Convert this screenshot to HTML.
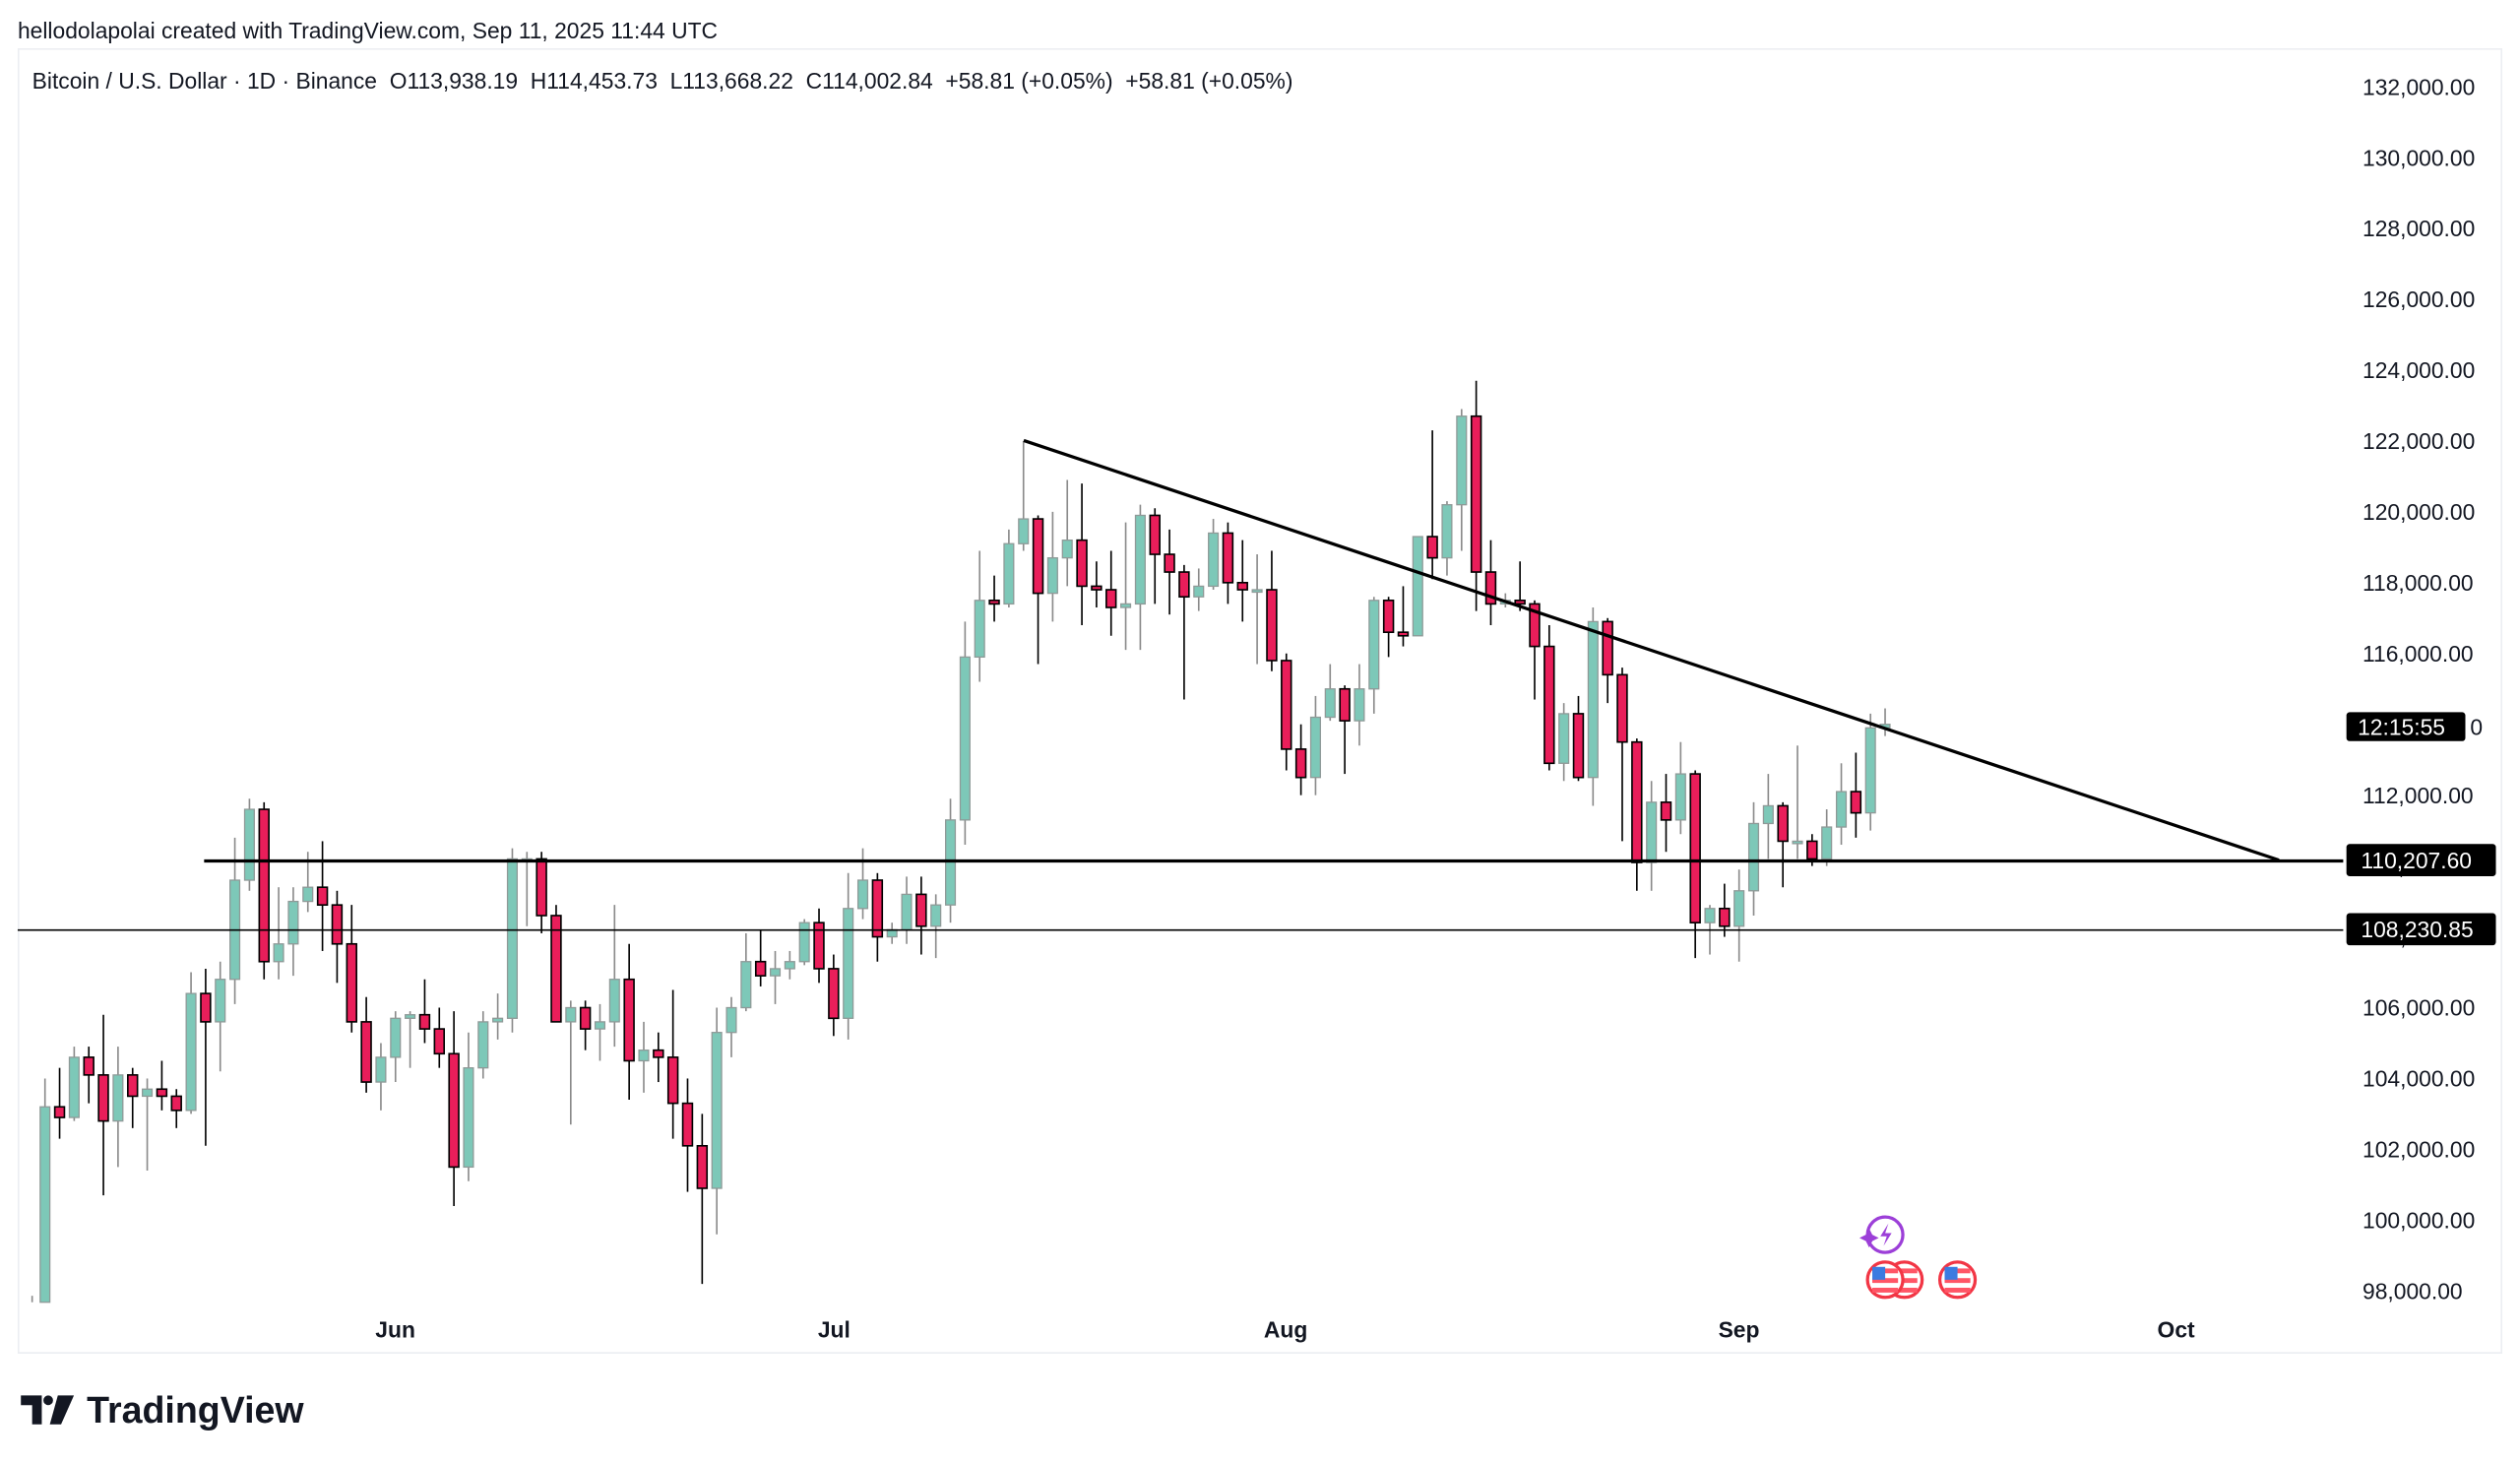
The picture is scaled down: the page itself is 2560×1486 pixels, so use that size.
<!DOCTYPE html>
<html><head><meta charset="utf-8"><style>
html,body{margin:0;padding:0;background:#fff;}
svg{display:block;}
text{font-family:"Liberation Sans",sans-serif;}
</style></head><body>
<svg id="s" width="2560" height="1486" viewBox="0 0 1568 910" preserveAspectRatio="none" xmlns="http://www.w3.org/2000/svg">
<rect x="0" y="0" width="1568" height="910" fill="#fff"/>
<text x="11" y="24" font-size="14" fill="#131722">hellodolapolai created with TradingView.com, Sep 11, 2025 11:44 UTC</text>
<rect x="11.5" y="30.5" width="1545" height="811" fill="#fff" stroke="#eceef2" stroke-width="1"/>
<text x="20" y="55" font-size="14" fill="#131722" xml:space="preserve">Bitcoin / U.S. Dollar · 1D · Binance  O113,938.19  H114,453.73  L113,668.22  C114,002.84  +58.81 (+0.05%)  +58.81 (+0.05%)</text>
<g id="axis" font-size="14" fill="#131722"></g>
<g id="candles"></g>
<line x1="127" y1="535.5" x2="1458" y2="535.5" stroke="#000" stroke-width="2"/>
<line x1="11" y1="578.5" x2="1458" y2="578.5" stroke="#000" stroke-width="1"/>
<line x1="637" y1="274" x2="1418" y2="535" stroke="#000" stroke-width="2"/>
<rect x="1460" y="443" width="74" height="18" rx="2" fill="#000"/>
<text x="1467" y="457" font-size="14" fill="#fff">12:15:55</text>
<text x="1537" y="457" font-size="14" fill="#131722">0</text>
<rect x="1460" y="525" width="93" height="20" rx="2" fill="#000"/>
<text x="1469" y="540" font-size="14" fill="#fff">110,207.60</text>
<rect x="1460" y="568" width="93" height="20" rx="2" fill="#000"/>
<text x="1469" y="583" font-size="14" fill="#fff">108,230.85</text>
<g font-size="14" font-weight="bold" fill="#131722" text-anchor="middle">
<text x="246" y="832">Jun</text><text x="519" y="832">Jul</text><text x="800" y="832">Aug</text><text x="1082" y="832">Sep</text><text x="1354" y="832">Oct</text>
</g>
<circle cx="1173" cy="768" r="11" fill="none" stroke="#9c3fd8" stroke-width="2"/>
<path d="M1175 761 l-5 8 h4 l-2 6 l5 -8 h-4 z" fill="#9c3fd8"/>
<path d="M1163 764 l2 4 l4 2 l-4 2 l-2 4 l-2 -4 l-4 -2 l4 -2 z" fill="#9c3fd8"/>
<g>
<circle cx="1185" cy="796" r="11" fill="#fff" stroke="#f23645" stroke-width="2"/>
<rect x="1177" y="789" width="16" height="3" fill="#f56"/><rect x="1177" y="795" width="16" height="3" fill="#f56"/><rect x="1177" y="801" width="16" height="3" fill="#f56"/>
<circle cx="1173" cy="796" r="11" fill="#fff" stroke="#f23645" stroke-width="2"/>
<rect x="1165" y="789" width="16" height="3" fill="#f56"/><rect x="1165" y="795" width="16" height="3" fill="#f56"/><rect x="1165" y="801" width="16" height="3" fill="#f56"/>
<rect x="1165" y="788" width="8" height="8" fill="#3b7be0"/>
<circle cx="1218" cy="796" r="11" fill="#fff" stroke="#f23645" stroke-width="2"/>
<rect x="1210" y="789" width="16" height="3" fill="#f56"/><rect x="1210" y="795" width="16" height="3" fill="#f56"/><rect x="1210" y="801" width="16" height="3" fill="#f56"/>
<rect x="1210" y="788" width="8" height="8" fill="#3b7be0"/>
</g>
<path d="M13 868 h13 v18 h-6 v-12 h-7 z" fill="#131722"/>
<circle cx="30" cy="871" r="3" fill="#131722"/>
<path d="M36 868 h10 l-8 18 h-7 z" fill="#131722"/>
<text x="54" y="885" font-size="23" font-weight="bold" fill="#131722">TradingView</text>
</svg>
<script>
var d=[[97.0,103.2,104.0,96.9],[103.2,102.9,104.3,102.3],[102.9,104.6,104.9,102.8],[104.6,104.1,104.9,103.3],[104.1,102.8,105.8,100.7],[102.8,104.1,104.9,101.5],[104.1,103.5,104.3,102.6],[103.5,103.7,104.0,101.4],[103.7,103.5,104.5,103.1],[103.5,103.1,103.7,102.6],[103.1,106.4,107.0,103.0],[106.4,105.6,107.1,102.1],[105.6,106.8,107.3,104.2],[106.8,109.6,110.8,106.1],[109.6,111.6,111.9,109.3],[111.6,107.3,111.8,106.8],[107.3,107.8,109.4,106.8],[107.8,109.0,109.4,106.9],[109.0,109.4,110.4,108.7],[109.4,108.9,110.7,107.6],[108.9,107.8,109.3,106.7],[107.8,105.6,108.9,105.3],[105.6,103.9,106.3,103.6],[103.9,104.6,105.0,103.1],[104.6,105.7,105.9,103.9],[105.7,105.8,105.9,104.3],[105.8,105.4,106.8,105.0],[105.4,104.7,106.0,104.3],[104.7,101.5,105.9,100.4],[101.5,104.3,105.3,101.1],[104.3,105.6,105.9,104.0],[105.6,105.7,106.4,105.1],[105.7,110.2,110.5,105.3],[110.2,110.2,110.4,108.3],[110.2,108.6,110.4,108.1],[108.6,105.6,108.9,105.6],[105.6,106.0,106.2,102.7],[106.0,105.4,106.2,104.8],[105.4,105.6,106.1,104.5],[105.6,106.8,108.9,104.9],[106.8,104.5,107.8,103.4],[104.5,104.8,105.6,103.6],[104.8,104.6,105.3,103.9],[104.6,103.3,106.5,102.3],[103.3,102.1,104.0,100.8],[102.1,100.9,103.0,98.2],[100.9,105.3,106.0,99.6],[105.3,106.0,106.3,104.6],[106.0,107.3,108.1,105.9],[107.3,106.9,108.2,106.6],[106.9,107.1,107.6,106.1],[107.1,107.3,107.6,106.8],[107.3,108.4,108.5,107.2],[108.4,107.1,108.8,106.7],[107.1,105.7,107.5,105.2],[105.7,108.8,109.8,105.1],[108.8,109.6,110.5,108.5],[109.6,108.0,109.8,107.3],[108.0,108.2,108.4,107.8],[108.2,109.2,109.7,107.8],[109.2,108.3,109.7,107.5],[108.3,108.9,109.2,107.4],[108.9,111.3,111.9,108.4],[111.3,115.9,116.9,110.6],[115.9,117.5,118.9,115.2],[117.5,117.4,118.2,116.9],[117.4,119.1,119.5,117.3],[119.1,119.8,122.0,118.9],[119.8,117.7,119.9,115.7],[117.7,118.7,120.0,116.9],[118.7,119.2,120.9,117.9],[119.2,117.9,120.8,116.8],[117.9,117.8,118.6,117.3],[117.8,117.3,118.9,116.5],[117.3,117.4,119.7,116.1],[117.4,119.9,120.2,116.1],[119.9,118.8,120.1,117.4],[118.8,118.3,119.5,117.1],[118.3,117.6,118.5,114.7],[117.6,117.9,118.4,117.2],[117.9,119.4,119.8,117.8],[119.4,118.0,119.7,117.4],[118.0,117.8,119.2,116.9],[117.8,117.8,118.8,115.7],[117.8,115.8,118.9,115.5],[115.8,113.3,116.0,112.7],[113.3,112.5,114.0,112.0],[112.5,114.2,114.8,112.0],[114.2,115.0,115.7,114.1],[115.0,114.1,115.1,112.6],[114.1,115.0,115.7,113.4],[115.0,117.5,117.6,114.3],[117.5,116.6,117.6,115.9],[116.6,116.5,117.9,116.2],[116.5,119.3,119.3,116.5],[119.3,118.7,122.3,118.1],[118.7,120.2,120.3,118.2],[120.2,122.7,122.9,118.9],[122.7,118.3,123.7,117.2],[118.3,117.4,119.2,116.8],[117.4,117.5,117.7,117.3],[117.5,117.4,118.6,117.2],[117.4,116.2,117.5,114.7],[116.2,112.9,116.8,112.7],[112.9,114.3,114.6,112.4],[114.3,112.5,114.8,112.4],[112.5,116.9,117.3,111.7],[116.9,115.4,117.0,114.6],[115.4,113.5,115.6,110.7],[113.5,110.1,113.6,109.3],[110.1,111.8,112.4,109.3],[111.8,111.3,112.6,110.4],[111.3,112.6,113.5,110.9],[112.6,108.4,112.7,107.4],[108.4,108.8,108.9,107.5],[108.8,108.3,109.5,108.0],[108.3,109.3,109.9,107.3],[109.3,111.2,111.8,108.6],[111.2,111.7,112.6,110.2],[111.7,110.7,111.8,109.4],[110.7,110.7,113.4,110.2],[110.7,110.2,110.9,110.0],[110.2,111.1,111.6,110.0],[111.1,112.1,112.9,110.6],[112.1,111.5,113.2,110.8],[111.5,113.9,114.3,111.0],[113.9,114.0,114.45,113.67]];
(function(){
function Y(p){return 54+(132-p)/2*44.06;}
var g=document.getElementById('candles'),h='';
for(var i=0;i<d.length;i++){var c=d[i],x=28+i*9.087,up=c[1]>=c[0];
var bt=Y(Math.max(c[0],c[1])),bb=Y(Math.min(c[0],c[1]));if(bb-bt<1.5)bb=bt+1.5;
bb=Math.min(bb,810);
var y1=Math.min(Y(c[2]),810),y2=Math.min(Y(c[3]),810);
if(up){h+='<line x1="'+x+'" y1="'+y1+'" x2="'+x+'" y2="'+y2+'" stroke="#8a8a8a" stroke-width="1"/>';
h+='<rect x="'+(x-3)+'" y="'+bt+'" width="6" height="'+(bb-bt)+'" fill="#7dc8b8" stroke="#8f9a98" stroke-width="0.8"/>';}
else{h+='<line x1="'+x+'" y1="'+y1+'" x2="'+x+'" y2="'+y2+'" stroke="#000" stroke-width="1"/>';
h+='<rect x="'+(x-3)+'" y="'+bt+'" width="6" height="'+(bb-bt)+'" fill="#e91e5a" stroke="#000" stroke-width="1"/>';}}
h+='<line x1="20" y1="806" x2="20" y2="810" stroke="#8a8a8a"/>';
g.innerHTML=h;
var a='';for(var p=132;p>=98;p-=2){if(p==114)continue;var s=(p*1000).toLocaleString('en-US')+'.00';a+='<text x="1470" y="'+(Y(p)+5)+'">'+s+'</text>';}
document.getElementById('axis').innerHTML=a;
})();
</script>
</body></html>
